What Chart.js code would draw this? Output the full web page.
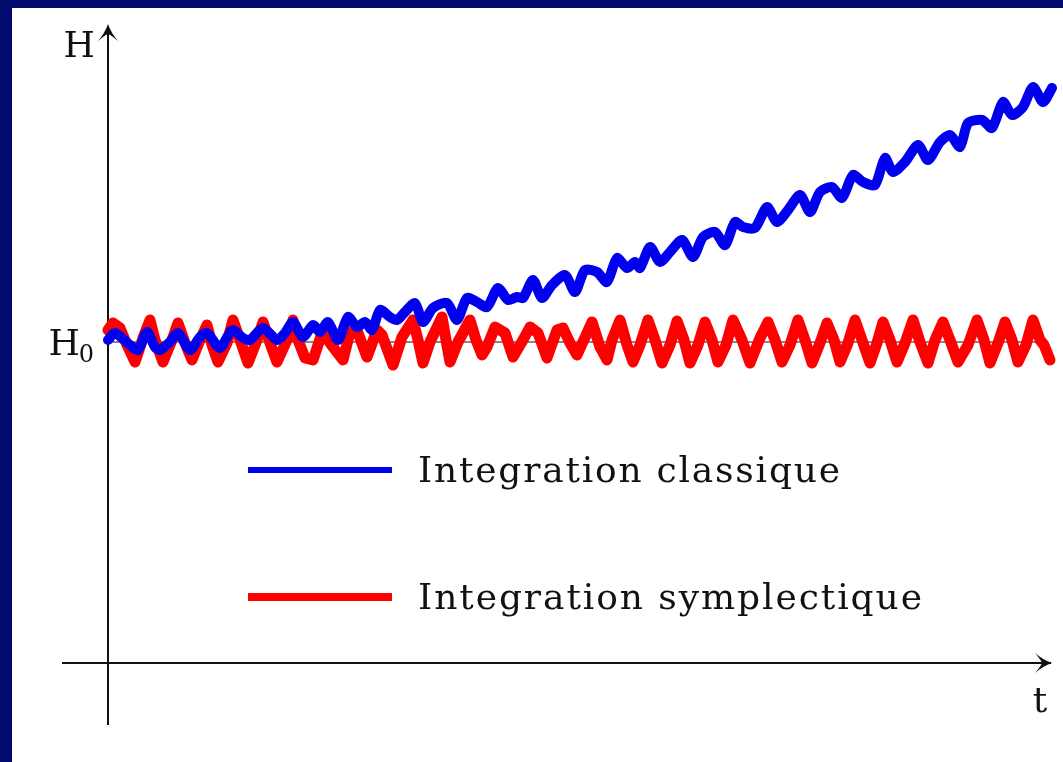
<!DOCTYPE html>
<html>
<head>
<meta charset="utf-8">
<script src="https://cdn.jsdelivr.net/npm/chart.js@4/dist/chart.umd.min.js"></script>
<style>
html, body { margin: 0; padding: 0; background: #020c6e; }
#panel { position: absolute; left: 12px; top: 8px; width: 1051px; height: 754px; background: #fff; }
</style>
</head>
<body>
<div id="panel"><canvas id="energy-chart-canvas" width="1051" height="754"></canvas></div>
<script>
// time axis and energy drift (H - H0)
const tClassique = [0, 7, 22, 30, 39, 47, 52, 62, 70, 82, 92, 99, 112, 124, 135, 142, 155, 169, 177, 185,
    195, 205, 212, 220, 230, 240, 249, 257, 264, 272, 282, 289, 297, 307, 315, 325, 339, 349, 359, 369,
    379, 390, 400, 409, 415, 425, 434, 444, 457, 467, 477, 489, 499, 509, 519, 527, 532, 542, 552, 562,
    574, 585, 595, 607, 617, 627, 635, 647, 659, 669, 680, 692, 702, 712, 724, 734, 745, 755, 767, 777,
    785, 797, 810, 820, 832, 842, 852, 860, 874, 884, 895, 904, 915, 925, 935, 944];
const hClassique = [2, 9, -3, -8, 10, -5, -8, 0, 9, -8, 5, 9, -6, 12, 4, 2, 14, 2, 9, 20,
    5, 17, 10, 20, 2, 25, 15, 20, 12, 32, 25, 22, 30, 39, 20, 34, 39, 22, 44, 40,
    35, 54, 42, 45, 44, 62, 44, 57, 67, 50, 72, 70, 60, 84, 74, 80, 74, 95, 80, 90,
    102, 85, 105, 110, 97, 120, 115, 114, 135, 120, 132, 147, 130, 150, 155, 144, 167, 160, 157, 184,
    170, 180, 197, 182, 200, 207, 195, 219, 222, 214, 240, 227, 235, 255, 240, 254];

const tSymplectique = [0, 5, 12, 19, 27, 35, 42, 47, 55, 64, 70, 77, 84, 92, 99, 104, 110, 119, 125, 132,
    140, 149, 155, 162, 169, 179, 185, 190, 197, 205, 214, 220, 225, 235, 242, 250, 259, 269, 274, 285,
    294, 305, 310, 315, 322, 334, 338, 342, 350, 362, 368, 374, 379, 387, 397, 405, 415, 422, 430, 439,
    449, 455, 462, 469, 479, 484, 492, 499, 504, 512, 519, 525, 532, 540, 547, 554, 562, 569, 576, 582,
    590, 597, 604, 610, 618, 625, 634, 642, 652, 660, 667, 674, 682, 690, 697, 704, 712, 719, 726, 732,
    740, 747, 754, 762, 769, 775, 782, 789, 797, 805, 812, 820, 827, 835, 842, 850, 860, 869, 876, 882,
    890, 897, 904, 910, 918, 925, 932, 936, 942];
const hSymplectique = [12, 19, 14, -3, -20, 4, 22, 2, -20, 2, 19, -1, -18, 2, 17, -3, -20, -1, 22, 2,
    -21, 2, 20, -1, -20, 2, 22, 2, -16, -18, 9, 2, -5, -18, 10, 9, -15, 12, 7, -23,
    5, 22, 2, -21, 0, 25, 2, -20, 0, 22, 2, -13, -5, 15, 9, -15, 2, 15, 9, -16,
    12, 14, -1, -13, 9, 20, -5, -18, 2, 22, -3, -20, -3, 22, 2, -21, -3, 21, 2, -21,
    -3, 20, 2, -20, -3, 22, 2, -21, 4, 20, 2, -20, -3, 22, 2, -21, -1, 19, 2, -20,
    -1, 22, 2, -21, -1, 20, 2, -20, -1, 22, 0, -21, 2, 20, 2, -20, -3, 22, 2, -21,
    -1, 20, 2, -20, -3, 22, 2, -3, -18];

const h0 = 0;
const seriesLabels = ['Integration classique', 'Integration symplectique'];
const seriesColors = ['#0000ee', '#ff0000'];

const serif = '"DejaVu Serif", "Liberation Serif", serif';

// draw text spread to a given width (the original uses a wide TeX font)
let spacedText = (ctx, str, x, y, width) => {
    const chars = str.split('');
    const widths = chars.map(c => ctx.measureText(c).width);
    const total = widths.reduce((a, b) => a + b, 0);
    const gap = (width - total) / (chars.length - 1);
    chars.forEach((c, i) => {
        ctx.fillText(c, x, y);
        x += widths[i] + gap;
    });
}

let arrowHead = (ctx, x, y, dir) => {
    // dir: 'up' or 'right'
    ctx.save();
    ctx.translate(x, y);
    if (dir == 'right') ctx.rotate(Math.PI / 2);
    ctx.beginPath();
    ctx.moveTo(0, 0);
    ctx.quadraticCurveTo(-3, 9, -10, 17);
    ctx.quadraticCurveTo(-3, 11, 0, 10);
    ctx.quadraticCurveTo(3, 11, 10, 17);
    ctx.quadraticCurveTo(3, 9, 0, 0);
    ctx.closePath();
    ctx.fill();
    ctx.restore();
}

const axesPlugin = {
    id: 'axes',
    beforeDatasetsDraw(chart) {
        const ctx = chart.ctx;
        const xs = chart.scales.x, ys = chart.scales.y;
        const x0 = xs.getPixelForValue(0);
        ctx.save();
        ctx.strokeStyle = '#111';
        ctx.fillStyle = '#111';
        // H0 reference line
        ctx.lineWidth = 1;
        ctx.beginPath();
        ctx.moveTo(x0, ys.getPixelForValue(h0));
        ctx.lineTo(xs.getPixelForValue(935), ys.getPixelForValue(h0));
        ctx.stroke();
        // axes
        ctx.lineWidth = 2;
        const yAxis = ys.getPixelForValue(ys.min);
        ctx.beginPath();
        ctx.moveTo(x0, yAxis + 62);
        ctx.lineTo(x0, ys.top - 3);
        ctx.moveTo(x0 - 46, yAxis);
        ctx.lineTo(xs.right + 1, yAxis);
        ctx.stroke();
        arrowHead(ctx, x0, ys.top - 6, 'up');
        arrowHead(ctx, xs.right + 2, yAxis, 'right');
        // axis labels
        ctx.font = '36px ' + serif;
        ctx.textAlign = 'right';
        ctx.textBaseline = 'alphabetic';
        ctx.fillText('H', x0 - 13, ys.top + 27);
        const yH0 = ys.getPixelForValue(h0);
        ctx.fillText('H', x0 - 28, yH0 + 13);
        ctx.font = '24px ' + serif;
        ctx.fillText('0', x0 - 14, yH0 + 20);
        ctx.font = '36px ' + serif;
        ctx.textAlign = 'center';
        ctx.fillText('t', xs.right - 10, yAxis + 49);
        ctx.restore();
    },
    afterDatasetsDraw(chart) {
        // legend drawn inside the plot, as in the figure
        const ctx = chart.ctx;
        const xs = chart.scales.x, ys = chart.scales.y;
        const rows = [
            { y: -128, text: seriesLabels[0], color: seriesColors[0], lw: 6, width: 422 },
            { y: -255, text: seriesLabels[1], color: seriesColors[1], lw: 8, width: 504 }
        ];
        ctx.save();
        ctx.font = '36px ' + serif;
        ctx.textAlign = 'left';
        ctx.textBaseline = 'alphabetic';
        rows.forEach(r => {
            const yp = ys.getPixelForValue(r.y);
            ctx.strokeStyle = r.color;
            ctx.lineWidth = r.lw;
            ctx.beginPath();
            ctx.moveTo(xs.getPixelForValue(140), yp);
            ctx.lineTo(xs.getPixelForValue(284), yp);
            ctx.stroke();
            ctx.fillStyle = '#111';
            spacedText(ctx, r.text, xs.getPixelForValue(310), yp + 12, r.width);
        });
        ctx.restore();
    }
};

let energyCtx = document.getElementById('energy-chart-canvas').getContext('2d');

let energyChart = new Chart(energyCtx, {
    type: 'line',
    data: {
        datasets: [{
            label: seriesLabels[0],
            data: tClassique.map((t, i) => ({ x: t, y: hClassique[i] })),
            borderColor: seriesColors[0],
            borderWidth: 10,
            tension: 0.25,
            pointRadius: 0,
            borderJoinStyle: 'round',
            borderCapStyle: 'round',
            clip: false
        }, {
            label: seriesLabels[1],
            data: tSymplectique.map((t, i) => ({ x: t, y: hSymplectique[i] })),
            borderColor: seriesColors[1],
            borderWidth: 11,
            tension: 0,
            pointRadius: 0,
            borderJoinStyle: 'round',
            borderCapStyle: 'round',
            clip: false
        }]
    },
    options: {
        responsive: false,
        animation: false,
        events: [],
        layout: {
            padding: { left: 96, right: 13, top: 22, bottom: 99 }
        },
        scales: {
            x: { type: 'linear', min: 0, max: 942, display: false },
            y: { type: 'linear', min: -321, max: 312, display: false }
        },
        plugins: {
            legend: { display: false },
            tooltip: { enabled: false }
        }
    },
    plugins: [axesPlugin]
});
</script>
</body>
</html>
